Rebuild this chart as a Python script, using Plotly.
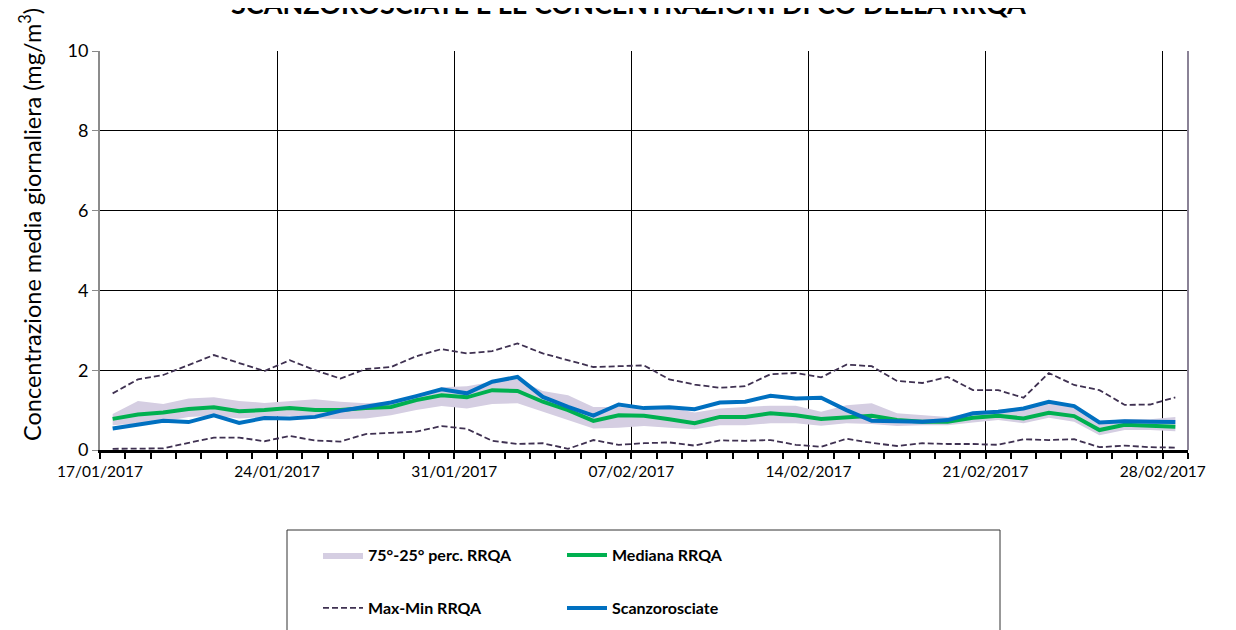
import pandas as pd
import plotly.graph_objects as go

start_date = "2017-01-17"
n_days = 43
dates = pd.date_range(start_date, periods=n_days, freq="D") + pd.Timedelta(hours=12)

max_rrqa = [1.42, 1.77, 1.88, 2.12, 2.38, 2.18, 1.98, 2.25, 2.0, 1.79, 2.03,
            2.08, 2.35, 2.53, 2.42, 2.48, 2.67, 2.42, 2.25, 2.08, 2.1, 2.12,
            1.77, 1.64, 1.56, 1.6, 1.9, 1.93, 1.82, 2.14, 2.1, 1.73,
            1.68, 1.83, 1.5, 1.5, 1.31, 1.93, 1.63, 1.5, 1.13, 1.14, 1.32]
min_rrqa = [0.03, 0.03, 0.04, 0.18, 0.31, 0.31, 0.22, 0.35, 0.24, 0.21, 0.4,
            0.43, 0.46, 0.6, 0.53, 0.23, 0.15, 0.17, 0.03, 0.25, 0.13, 0.17,
            0.19, 0.11, 0.24, 0.23, 0.25, 0.13, 0.08, 0.28, 0.18, 0.1,
            0.17, 0.15, 0.15, 0.13, 0.27, 0.25, 0.27, 0.07, 0.11, 0.07, 0.06]
mediana_rrqa = [0.78, 0.89, 0.94, 1.03, 1.07, 0.97, 1.0, 1.05, 1.0, 1.0, 1.05,
                1.08, 1.25, 1.37, 1.32, 1.5, 1.48, 1.21, 1.0, 0.73, 0.87, 0.86,
                0.77, 0.67, 0.83, 0.83, 0.92, 0.87, 0.78, 0.83, 0.86, 0.75,
                0.71, 0.71, 0.81, 0.86, 0.79, 0.93, 0.85, 0.5, 0.63, 0.61, 0.58]
scanzorosciate = [0.54, 0.64, 0.73, 0.7, 0.87, 0.68, 0.8, 0.79, 0.83, 0.98, 1.08,
                  1.19, 1.35, 1.52, 1.42, 1.71, 1.83, 1.33, 1.08, 0.86, 1.14, 1.05,
                  1.07, 1.02, 1.19, 1.21, 1.36, 1.29, 1.31, 1.0, 0.73, 0.71,
                  0.71, 0.75, 0.92, 0.96, 1.04, 1.21, 1.1, 0.69, 0.72, 0.71, 0.7]
perc75 = [0.9, 1.23, 1.15, 1.29, 1.32, 1.23, 1.18, 1.23, 1.27, 1.21, 1.17,
          1.21, 1.33, 1.57, 1.6, 1.71, 1.77, 1.48, 1.37, 1.08, 1.08, 1.04,
          1.08, 0.94, 1.04, 1.08, 1.11, 1.11, 0.96, 1.12, 1.17, 0.92,
          0.87, 0.83, 0.93, 1.0, 1.08, 1.21, 1.12, 0.71, 0.78, 0.77, 0.83]
perc25 = [0.62, 0.67, 0.71, 0.83, 0.86, 0.79, 0.83, 0.86, 0.79, 0.78, 0.79,
          0.87, 1.0, 1.1, 1.04, 1.15, 1.17, 0.96, 0.75, 0.54, 0.56, 0.6,
          0.56, 0.52, 0.62, 0.62, 0.67, 0.67, 0.61, 0.67, 0.65, 0.6,
          0.62, 0.62, 0.69, 0.75, 0.67, 0.81, 0.71, 0.37, 0.5, 0.5, 0.47]

tick_dates = ["2017-01-17", "2017-01-24", "2017-01-31", "2017-02-07",
              "2017-02-14", "2017-02-21", "2017-02-28"]
tick_labels = ["17/01/2017", "24/01/2017", "31/01/2017", "07/02/2017",
               "14/02/2017", "21/02/2017", "28/02/2017"]
y_ticks = [0, 2, 4, 6, 8, 10]

FONT = "Lato"
BAND = "#D5CEE2"
GREEN = "#00B050"
BLUE = "#0070C0"
DASH = "#3F3151"

# page offset of the figure (browser body margin)
OFF = 8
# plot-area geometry in page pixels (used only for placing texts / legend box)
L, R, T, B = 100, 1188, 51, 450
PW, PH = R - L, B - T
W, H = 1236, 630


def px(x):
    return (x - L) / PW


def py(y):
    return (B - y) / PH


fig = go.Figure()
fig.add_trace(go.Scatter(x=dates, y=perc25, mode="lines", line=dict(width=0, color=BAND),
                         showlegend=False, hoverinfo="skip"))
fig.add_trace(go.Scatter(x=dates, y=perc75, mode="lines", line=dict(width=0, color=BAND),
                         fill="tonexty", fillcolor=BAND, name="75°-25° perc. RRQA",
                         legend="legend"))
fig.add_trace(go.Scatter(x=dates, y=max_rrqa, mode="lines",
                         line=dict(color=DASH, width=1.8, dash="6px,3px"),
                         name="Max-Min RRQA", legend="legend2"))
fig.add_trace(go.Scatter(x=dates, y=min_rrqa, mode="lines",
                         line=dict(color=DASH, width=1.8, dash="6px,3px"),
                         showlegend=False))
fig.add_trace(go.Scatter(x=dates, y=mediana_rrqa, mode="lines",
                         line=dict(color=GREEN, width=4),
                         name="Mediana RRQA", legend="legend"))
fig.add_trace(go.Scatter(x=dates, y=scanzorosciate, mode="lines",
                         line=dict(color=BLUE, width=4),
                         name="Scanzorosciate", legend="legend2"))

legend_common = dict(orientation="h", xref="paper", yref="paper", xanchor="left",
                     yanchor="middle", font=dict(family=FONT, size=16, color="black", weight="bold"),
                     bgcolor="rgba(0,0,0,0)", entrywidth=189, traceorder="normal",
                     itemwidth=40)

fig.update_layout(
    width=W, height=H,
    margin=dict(l=L - OFF, r=W - R + OFF, t=T - OFF, b=H - B + OFF, autoexpand=False),
    paper_bgcolor="white", plot_bgcolor="white",
    font=dict(family=FONT, size=16, color="black"),
    legend=dict(**legend_common, x=px(318), y=py(555)),
    legend2=dict(**legend_common, x=px(318), y=py(608)),
    xaxis=dict(
        type="date", range=["2017-01-17", "2017-03-01"],
        tickmode="array", tickvals=tick_dates, ticktext=tick_labels,
        ticks="outside", ticklen=6, tickcolor="black", tickwidth=1.5,
        showgrid=True, gridcolor="black", gridwidth=1,
        showline=True, linecolor="black", linewidth=2.5,
        minor=dict(dtick=86400000, ticks="outside", ticklen=6, tickcolor="black",
                   tickwidth=1.5, showgrid=False),
        tickfont=dict(family=FONT, size=15.5), zeroline=False, automargin=False,
    ),
    yaxis=dict(
        range=[0, 10], tickvals=y_ticks,
        ticks="outside", ticklen=6, tickcolor="#888888",
        showgrid=True, gridcolor="black", gridwidth=1,
        showline=True, linecolor="#8c8c8c", linewidth=2,
        tickfont=dict(family=FONT, size=18), zeroline=False, automargin=False,
    ),
    showlegend=True,
)

# right border of plot area
fig.add_shape(type="line", xref="paper", yref="paper", x0=1, x1=1, y0=0, y1=1,
              line=dict(color="#8a8296", width=2))
# legend box
fig.add_shape(type="rect", xref="paper", yref="paper",
              x0=px(287), x1=px(1000), y0=py(645), y1=py(530),
              line=dict(color="#333333", width=1), fillcolor="rgba(0,0,0,0)", layer="below")

fig.add_annotation(text="SCANZOROSCIATE E LE CONCENTRAZIONI DI CO DELLA RRQA",
                   xref="paper", yref="paper", x=px(628), y=py(4),
                   xanchor="center", yanchor="middle", showarrow=False,
                   font=dict(family=FONT, size=27, color="black", weight="bold"))
fig.add_annotation(text="Concentrazione media giornaliera (mg/m<sup>3</sup>)",
                   xref="paper", yref="paper", x=px(30), y=py(225),
                   xanchor="center", yanchor="middle", textangle=-90, showarrow=False,
                   font=dict(family=FONT, size=23.5, color="black"))

fig.write_html("out.html")
